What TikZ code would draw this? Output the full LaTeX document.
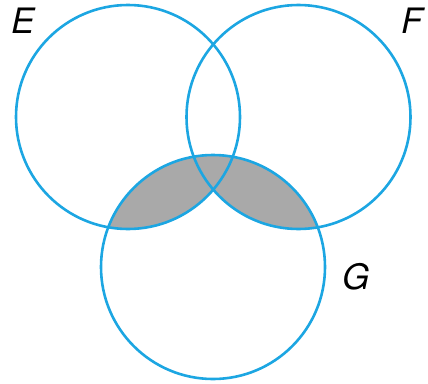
\documentclass[tikz,border=0pt]{standalone}
\usepackage{fontspec}
\setsansfont{TeX Gyre Heros}
\definecolor{cline}{HTML}{1CA6E2}
\definecolor{cshade}{HTML}{A9A9A9}
\tikzset{
  every picture/.style={font=\sffamily\itshape, line width=2.6pt},
  set/.style={draw=cline},
  setlabel/.style={font=\sffamily\itshape\fontsize{35}{38}\selectfont, text=black, inner sep=0pt},
}
\begin{document}
\begin{tikzpicture}[x=1pt, y=-1pt]
  \useasboundingbox (0,0) rectangle (428,383);
  \def\r{112}
  \coordinate (e) at (128,117);
  \coordinate (f) at (298.5,117);
  \coordinate (g) at (213,267);
  % shaded part: (E or F) and G
  \begin{scope}
    \clip (g) circle (\r);
    \fill[cshade] (e) circle (\r) (f) circle (\r);
  \end{scope}
  \foreach \c in {e,f,g}
    \draw[set] (\c) circle (\r);
  \node[setlabel] (le) at (23,21) {E};
  \node[setlabel] (lf) at (412,21) {F};
  \node[setlabel] (lg) at (356,277) {G};
\end{tikzpicture}
\end{document}
